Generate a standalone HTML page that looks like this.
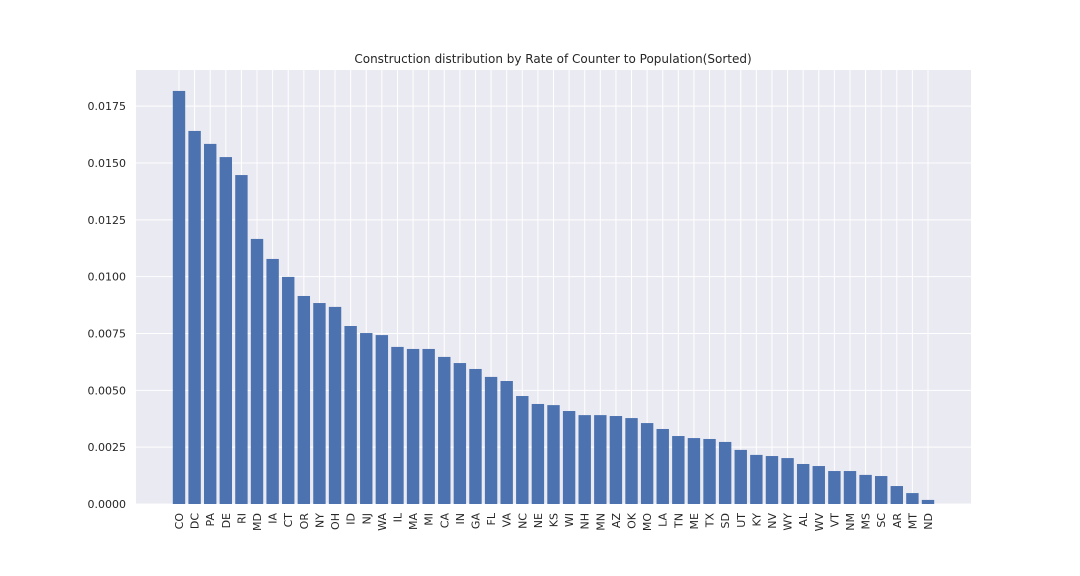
<!DOCTYPE html>
<html><head><meta charset="utf-8"><style>
html,body{margin:0;padding:0;background:#fff;}
svg{display:block;font-family:"DejaVu Sans","Liberation Sans",sans-serif;}
</style></head><body>
<svg id="chart" width="1080" height="576" xmlns="http://www.w3.org/2000/svg">
<rect x="136" y="70" width="835" height="434" fill="#eaeaf2"/>
<g id="grid"></g><g id="bars"></g><g id="xticks"></g><g id="yticks"></g>
<text x="553" y="63" text-anchor="middle" font-size="12" fill="#262626">Construction distribution by Rate of Counter to Population(Sorted)</text>
</svg>
<script>
const categories = ["CO","DC","PA","DE","RI","MD","IA","CT","OR","NY","OH","ID","NJ","WA","IL","MA","MI","CA","IN","GA","FL","VA","NC","NE","KS","WI","NH","MN","AZ","OK","MO","LA","TN","ME","TX","SD","UT","KY","NV","WY","AL","WV","VT","NM","MS","SC","AR","MT","ND"];
const values = [0.01817,0.01641,0.01584,0.01526,0.01447,0.01166,0.01078,0.00999,0.00915,0.00884,0.00867,0.00783,0.00752,0.00743,0.00691,0.00682,0.00682,0.00647,0.00620,0.00594,0.00559,0.00541,0.00475,0.00440,0.00435,0.00409,0.00391,0.00391,0.00387,0.00378,0.00356,0.00330,0.00299,0.00290,0.00286,0.00273,0.00238,0.00216,0.00211,0.00202,0.00176,0.00167,0.00145,0.00145,0.00128,0.00123,0.00079,0.00048,0.00018];
const yTicks = [0,0.0025,0.005,0.0075,0.01,0.0125,0.015,0.0175];
const yTickLabels = ["0.0000","0.0025","0.0050","0.0075","0.0100","0.0125","0.0150","0.0175"];

const NS="http://www.w3.org/2000/svg";
const y0=504, pxPerUnit=(504-163)/0.015;
function yScale(v){return y0 - v*pxPerUnit;}
const step=(928-179)/48;
function xScale(i){return 179 + i*step;}
const bw=12.4;
function mk(tag,attrs,parent){const e=document.createElementNS(NS,tag);for(const k in attrs)e.setAttribute(k,attrs[k]);parent.appendChild(e);return e;}
const grid=document.getElementById('grid'),bars=document.getElementById('bars'),xt=document.getElementById('xticks'),yt=document.getElementById('yticks');
yTicks.forEach((t,i)=>{
  const y=yScale(t);
  const l=mk('line',{x1:136,x2:971,y1:y,y2:y,stroke:'#fff','stroke-width':1},grid);
  
  
  const tx=mk('text',{x:126,y:y+4,'text-anchor':'end','font-size':11,fill:'#262626'},yt);
  tx.textContent=yTickLabels[i];
  
  
});
categories.forEach((c,i)=>{
  const x=xScale(i);
  const g=mk('line',{x1:x,x2:x,y1:70,y2:504,stroke:'#fff','stroke-width':1},grid);
  
  
  const y=yScale(values[i]);
  const r=mk('rect',{x:x-bw/2,y:y,width:bw,height:y0-y,fill:'#4c72b0'},bars);
  
  
  const t=mk('text',{x:0,y:0,'text-anchor':'end','font-size':11,fill:'#262626',transform:`translate(${x+4},513) rotate(-90)`},xt);
  t.textContent=c;
  
  
});
</script>
</body></html>
